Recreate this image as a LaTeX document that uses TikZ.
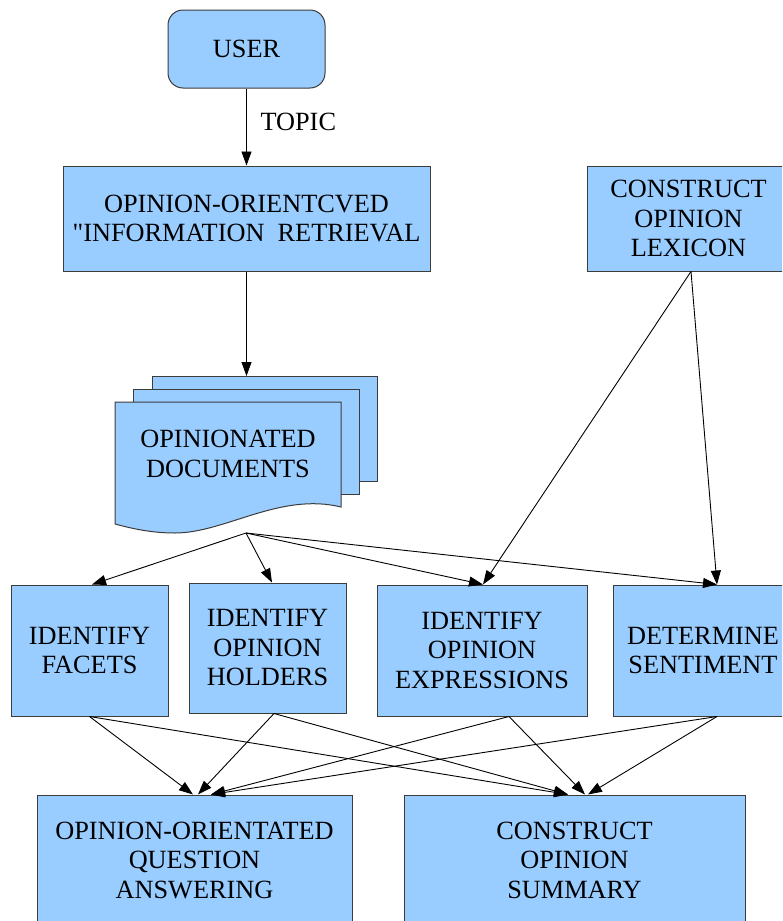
\documentclass[tikz,border=0pt]{standalone}
\usepackage{fontspec}
\setmainfont{Liberation Serif}[Ligatures=TeXOff]
\usetikzlibrary{arrows.meta,calc}
\definecolor{boxblue}{HTML}{99CCFF}
\definecolor{edgegray}{HTML}{3C3C3C}
\begin{document}
\begin{tikzpicture}[x=1pt,y=-1pt,
  font=\fontsize{26.3}{29.5}\selectfont,
  box/.style={draw=edgegray, line width=1pt, fill=boxblue, align=center, inner sep=0pt},
  sheet/.style={draw=edgegray, line width=1pt, fill=boxblue},
  arr/.style={-{Triangle[length=14pt,width=10pt]}, line width=0.9pt}]
\clip (0,0) rectangle (782,921);
\useasboundingbox (0,0) rectangle (782,921);

% boxes
\node[box, rounded corners=15pt, minimum width=157pt, minimum height=78pt] (user) at (246.5,49) {USER};
\node[box, minimum width=367pt, minimum height=105pt] (oir) at (246.5,218.5) {OPINION-ORIENTCVED\\"INFORMATION\ \ RETRIEVAL};
\node[box, minimum width=203pt, minimum height=105pt] (lex) at (688.5,218.5) {CONSTRUCT\\OPINION\\LEXICON};

% documents stack
\draw[sheet] (152,376) rectangle (377,481);
\draw[sheet] (133,389) rectangle (359,494);
\draw[sheet] (115,402) -- (341,402) -- (341,507) .. controls (280,492) and (225,533) .. (175,533) .. controls (150,533) and (130,528) .. (115,524) -- cycle;
\node[align=center] (docs) at (228,454) {OPINIONATED\\DOCUMENTS};
\coordinate (doctop) at (246.5,376);
\coordinate (docout) at (246,533);

\node[box, minimum width=157pt, minimum height=131pt] (facets) at (89.5,650.5) {IDENTIFY\\FACETS};
\node[box, minimum width=157pt, minimum height=130pt] (holders) at (267.5,648) {IDENTIFY\\OPINION\\HOLDERS};
\node[box, minimum width=210pt, minimum height=131pt] (expr) at (482,650.5) {IDENTIFY\\OPINION\\EXPRESSIONS};
\node[box, minimum width=180pt, minimum height=131pt] (sent) at (703,650.5) {DETERMINE\\SENTIMENT};

\node[box, minimum width=315pt, minimum height=130pt] (qa) at (194.5,860) {OPINION-ORIENTATED\\QUESTION\\ANSWERING};
\node[box, minimum width=341pt, minimum height=130pt] (summary) at (574.5,860) {CONSTRUCT\\OPINION\\SUMMARY};

% connectors
\draw[arr] (user.south) -- (oir.north);
\node[anchor=west] (topic) at (257,122) {TOPIC};
\draw[arr] (oir.south) -- (doctop);

\draw[arr] (docout) -- ([xshift=2.5pt]facets.north);
\draw[arr] (docout) -- ([xshift=4.5pt]holders.north);
\draw[arr] (docout) -- ([xshift=1pt]expr.north);
\draw[arr] (docout) -- ([xshift=14pt]sent.north);

\draw[arr] ([xshift=2.5pt]lex.south) -- ([xshift=1pt]expr.north);
\draw[arr] ([xshift=2.5pt]lex.south) -- ([xshift=14pt]sent.north);

\draw[arr] (facets.south) -- ([xshift=-1.5pt]qa.north);
\draw[arr] (facets.south) -- ([xshift=-6.5pt]summary.north);
\draw[arr] ([xshift=6.5pt]holders.south) -- ([xshift=3.5pt]qa.north);
\draw[arr] ([xshift=6.5pt]holders.south) -- ([xshift=-6.5pt]summary.north);
\draw[arr] ([xshift=27pt]expr.south) -- ([xshift=16.5pt]qa.north);
\draw[arr] ([xshift=27pt]expr.south) -- ([xshift=10.5pt]summary.north);
\draw[arr] ([xshift=14pt]sent.south) -- ([xshift=16.5pt]qa.north);
\draw[arr] ([xshift=14pt]sent.south) -- ([xshift=13.5pt]summary.north);
\end{tikzpicture}
\end{document}
